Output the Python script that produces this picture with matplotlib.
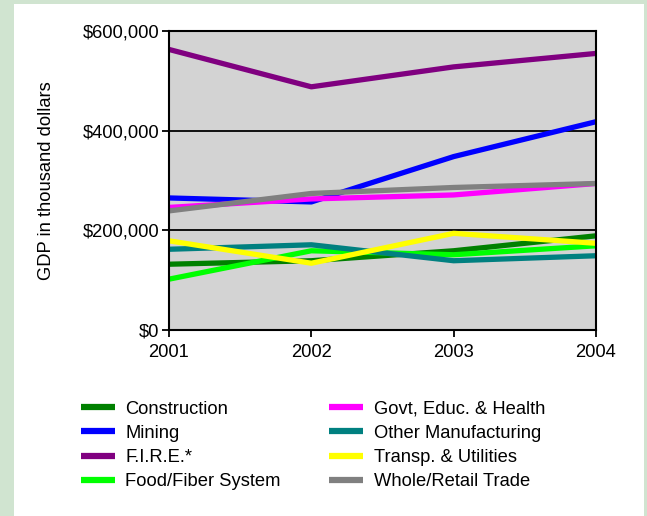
import matplotlib
matplotlib.use("Agg")
import matplotlib.pyplot as plt
from matplotlib.ticker import FuncFormatter
from matplotlib.patches import Rectangle

plt.rcParams["font.family"] = ["Liberation Sans", "DejaVu Sans"]

years = [2001, 2002, 2003, 2004]
construction = [132000, 139000, 159000, 189000]
mining = [265000, 257000, 348000, 418000]
fire = [563000, 488000, 528000, 555000]
food_fiber = [102000, 159000, 151000, 169000]
govt = [246000, 263000, 271000, 294000]
other_mfg = [162000, 171000, 139000, 149000]
transp = [179000, 134000, 194000, 174000]
retail = [239000, 274000, 286000, 294000]

series = [
    ("Construction", construction, "#008000"),
    ("Mining", mining, "#0000ff"),
    ("F.I.R.E.*", fire, "#800080"),
    ("Food/Fiber System", food_fiber, "#00ff00"),
    ("Govt, Educ. & Health", govt, "#ff00ff"),
    ("Other Manufacturing", other_mfg, "#008080"),
    ("Transp. & Utilities", transp, "#ffff00"),
    ("Whole/Retail Trade", retail, "#808080"),
]

FS = 13.2

fig = plt.figure(figsize=(6.47, 5.16), dpi=100, facecolor="#d0e4d0")
# white panel inside the green frame
fig.add_artist(Rectangle((14 / 647, 0), 630 / 647, 512 / 516,
                         transform=fig.transFigure, facecolor="white",
                         edgecolor="none", zorder=-10))

ax = fig.add_axes([169 / 647, 186 / 516, 427 / 647, 299 / 516])
ax.set_facecolor("#d3d3d3")

for name, vals, col in series:
    ax.plot(years, vals, color=col, lw=3.8, label=name, solid_capstyle="round")

ax.set_xlim(2001, 2004)
ax.set_ylim(0, 600000)
ax.set_xticks(years)
ax.set_yticks([0, 200000, 400000, 600000])
ax.yaxis.set_major_formatter(FuncFormatter(lambda v, p: f"${v:,.0f}"))
ax.grid(axis="y", color="black", lw=1.3)
ax.set_axisbelow(True)
for s in ax.spines.values():
    s.set_linewidth(1.5)
ax.tick_params(direction="out", length=5, width=1.3, labelsize=FS, pad=2)
ax.tick_params(axis="x", pad=5)
ax.set_ylabel("GDP in thousand dollars", fontsize=FS, labelpad=20)

handles, labels = ax.get_legend_handles_labels()
leg = fig.legend(handles, labels, ncol=2, loc="upper left",
                 bbox_to_anchor=(64 / 647, 1 - 384 / 516), frameon=False,
                 fontsize=FS, handlelength=1.9, handletextpad=0.55,
                 columnspacing=2.6, labelspacing=0.40)
for h in leg.legend_handles:
    h.set_linewidth(4.5)
    h.set_solid_capstyle("butt")

fig.savefig("out.png", dpi=100, facecolor=fig.get_facecolor())
